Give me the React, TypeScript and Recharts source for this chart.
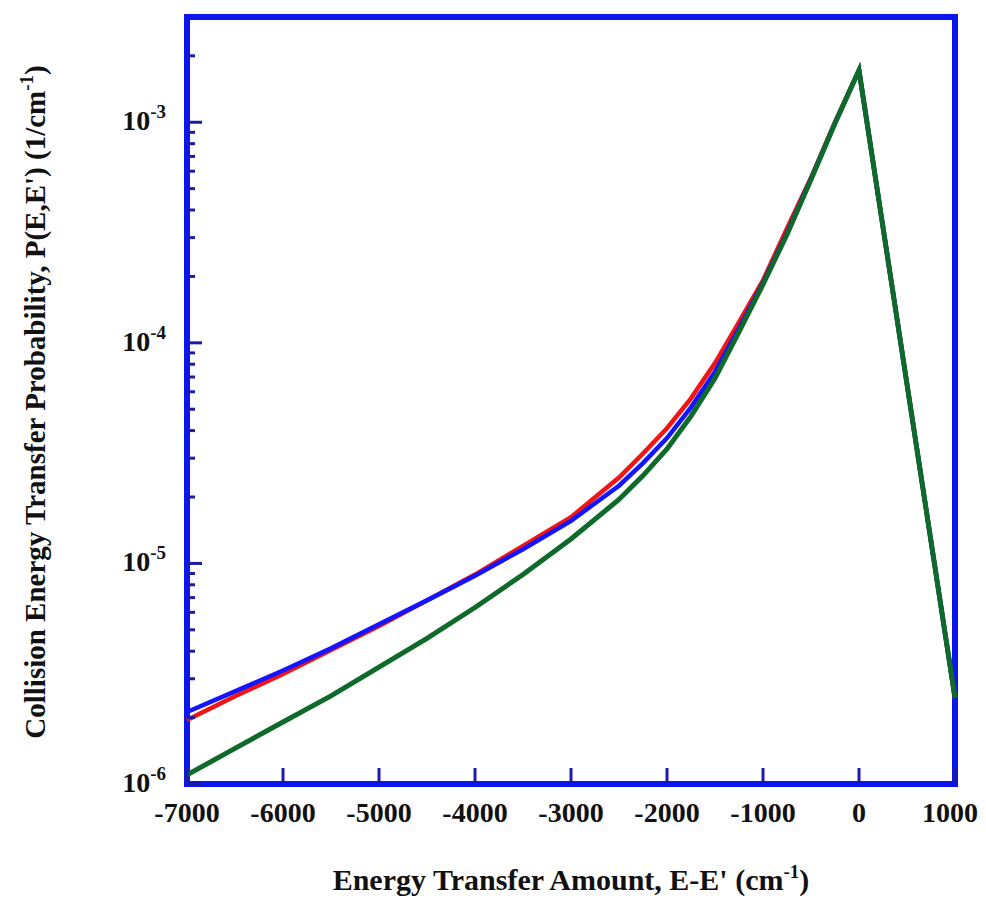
import { LineChart, Line, XAxis, YAxis, ReferenceArea } from "recharts";

// energy transfer E-E' (cm^-1)
const ENERGY = [-7000, -6500, -6000, -5500, -5000, -4500, -4000, -3500, -3000, -2500, -2250, -2000, -1750, -1500, -1250, -1000, -750, -500, -250, 0, 1000];

// P(E,E'), per curve
const P_RED = [1.95e-6, 2.5e-6, 3.15e-6, 4.05e-6, 5.2e-6, 6.8e-6, 8.9e-6, 1.2e-5, 1.62e-5, 2.45e-5, 3.15e-5, 4.1e-5, 5.6e-5, 8.1e-5, 1.24e-4, 1.92e-4, 3.3e-4, 5.6e-4, 1.0e-3, 1.72e-3, 2.45e-6];
const P_BLUE = [2.12e-6, 2.63e-6, 3.27e-6, 4.12e-6, 5.3e-6, 6.8e-6, 8.8e-6, 1.16e-5, 1.56e-5, 2.25e-5, 2.85e-5, 3.7e-5, 5.1e-5, 7.4e-5, 1.16e-4, 1.87e-4, 3.15e-4, 5.55e-4, 9.9e-4, 1.72e-3, 2.45e-6];
const P_GREEN = [1.1e-6, 1.45e-6, 1.91e-6, 2.51e-6, 3.39e-6, 4.57e-6, 6.31e-6, 8.91e-6, 1.29e-5, 1.95e-5, 2.5e-5, 3.3e-5, 4.65e-5, 6.9e-5, 1.12e-4, 1.84e-4, 3.1e-4, 5.5e-4, 9.9e-4, 1.72e-3, 2.45e-6];

const X_TICKS = [-7000, -6000, -5000, -4000, -3000, -2000, -1000, 0, 1000];
const Y_DECADES = [-6, -5, -4, -3];
const Y_MINOR = [2, 3, 4, 5, 6, 7, 8, 9];

const FRAME = "#0b16ee";
const TICK = "#1b1ba6";
const FONT = "'Liberation Serif', 'Times New Roman', serif";

const rows = ENERGY.map((e, i) => ({ e, red: P_RED[i], blue: P_BLUE[i], green: P_GREEN[i] }));

const yTicks: number[] = [];
Y_DECADES.forEach((d) => {
  yTicks.push(Math.pow(10, d));
  Y_MINOR.forEach((m) => {
    const v = m * Math.pow(10, d);
    if (v < 2.5e-3) yTicks.push(v);
  });
});

const isMajor = (v: number) => Y_DECADES.some((d) => Math.abs(v / Math.pow(10, d) - 1) < 1e-6);

function XTick({ x, y, payload }: any) {
  // the last label is pulled in so it stays inside the page, as in the original
  const last = payload.value === X_TICKS[X_TICKS.length - 1];
  return (
    <g>
      <line x1={x} x2={x} y1={y} y2={y - 16} stroke={TICK} strokeWidth={3} />
      <text
        x={last ? x + 23 : x}
        y={y + 38}
        textAnchor={last ? "end" : "middle"}
        fontFamily={FONT}
        fontWeight="bold"
        fontSize={28}
        fill="#111"
      >
        {payload.value}
      </text>
    </g>
  );
}

function YTick({ x, y, payload }: any) {
  const major = isMajor(payload.value);
  const exp = Math.round(Math.log10(payload.value));
  return (
    <g>
      <line x1={x} x2={x + (major ? 15 : 8)} y1={y} y2={y} stroke={TICK} strokeWidth={3} />
      {major && (
        <text x={x - 21} y={y + 8} textAnchor="end" fontFamily={FONT} fontWeight="bold" fontSize={28} fill="#111">
          10
          <tspan dy={-12} fontSize={19}>{exp}</tspan>
        </text>
      )}
    </g>
  );
}

export default function App() {
  return (
    <div style={{ position: "relative", width: 970, height: 890, background: "#fff" }}>
      <LineChart
        width={970}
        height={890}
        data={rows}
        margin={{ top: 9, right: 23, bottom: 0, left: 0 }}
        style={{ overflow: "visible" }}
      >
        <XAxis
          dataKey="e"
          type="number"
          domain={[-7000, 1000]}
          ticks={X_TICKS}
          interval={0}
          height={114}
          tickSize={0}
          tickMargin={0}
          axisLine={false}
          tickLine={false}
          tick={<XTick />}
        />
        <YAxis
          type="number"
          scale="log"
          domain={[1e-6, 3e-3]}
          allowDataOverflow
          ticks={yTicks}
          interval={0}
          width={179}
          tickSize={0}
          tickMargin={0}
          axisLine={false}
          tickLine={false}
          tick={<YTick />}
        />
        <Line dataKey="red" type="linear" stroke="#f01414" strokeWidth={4.5} dot={false} isAnimationActive={false} />
        <Line dataKey="blue" type="linear" stroke="#1414ff" strokeWidth={4.5} dot={false} isAnimationActive={false} />
        <Line dataKey="green" type="linear" stroke="#0e6a2a" strokeWidth={5} dot={false} isAnimationActive={false} />
        <ReferenceArea x1={-7000} x2={1000} y1={1e-6} y2={3e-3} fill="none" stroke={FRAME} strokeWidth={6} ifOverflow="visible" />
      </LineChart>
      <svg width={970} height={890} style={{ position: "absolute", left: 0, top: 0, pointerEvents: "none", overflow: "visible" }}>
        <text x={563} y={882} textAnchor="middle" fontFamily={FONT} fontWeight="bold" fontSize={30} fill="#111">
          Energy Transfer Amount, E-E' (cm
          <tspan dy={-12} fontSize={19}>-1</tspan>
          <tspan dy={12}>)</tspan>
        </text>
        <text
          transform="translate(37 394) rotate(-90)"
          textAnchor="middle"
          fontFamily={FONT}
          fontWeight="bold"
          fontSize={29}
          fill="#111"
        >
          Collision Energy Transfer Probability, P(E,E') (1/cm
          <tspan dy={-12} fontSize={19}>-1</tspan>
          <tspan dy={12}>)</tspan>
        </text>
      </svg>
    </div>
  );
}
